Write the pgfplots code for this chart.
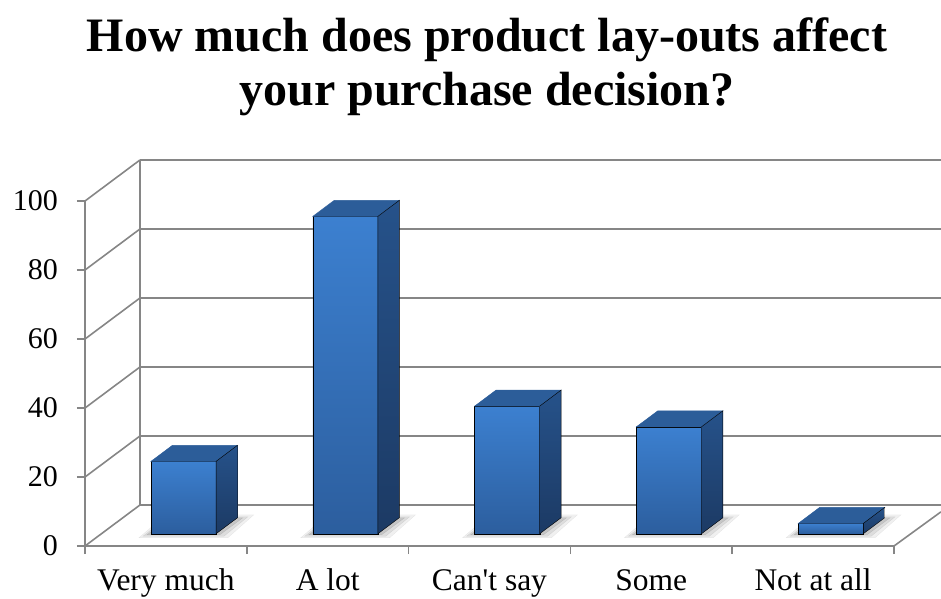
\documentclass[border=0pt]{standalone}
\usepackage{fontspec}
\setmainfont{Liberation Serif}
\usepackage{pgfplots}
\usepackage{pgfplotstable}
\pgfplotsset{compat=1.18}
\pgfdeclareplotmark{empty}{}
\definecolor{gridgray}{RGB}{134,134,134}
\definecolor{frontTop}{RGB}{60,128,208}
\definecolor{frontBot}{RGB}{44,94,158}
\definecolor{sideTop}{RGB}{38,82,138}
\definecolor{sideBot}{RGB}{28,58,100}
\definecolor{topFace}{RGB}{44,93,153}

\pgfplotstableread{
x v
0 21
1 92
2 37
3 31
4 3
}\bardata

\begin{document}
\begin{tikzpicture}
\useasboundingbox (0,0) rectangle (941pt,598pt);
\node[font=\fontsize{48}{54}\bfseries\selectfont, anchor=base] at (487pt,546pt) {How much does product lay-outs affect};
\node[font=\fontsize{48}{54}\bfseries\selectfont, anchor=base] at (487pt,492pt) {your purchase decision?};
\begin{axis}[
  at={(85pt,52pt)}, anchor=south west,
  scale only axis, width=809pt, height=345pt,
  xmin=-0.5, xmax=4.5, ymin=0, ymax=100,
  axis x line*=bottom, axis y line*=left,
  axis line style={draw=gridgray, line width=1.5pt},
  clip=false,
  /pgf/number format/assume math mode=true,
  ticklabel style={font=\fontsize{30}{36}\selectfont},
  ytick={0,20,40,60,80,100},
  yticklabel style={anchor=east, inner sep=0pt, xshift=-19pt},
  xtick={-0.5,0.5,1.5,2.5,3.5,4.5}, xticklabels={},
  extra x ticks={0,1,2,3,4},
  extra x tick labels={Very much,A lot,Can\textquotesingle t say,Some,Not at all},
  extra x tick style={major tick length=0pt, xticklabel style={font=\fontsize{31.5}{37}\selectfont, anchor=base, inner sep=0pt, yshift=-44pt}},
  tick align=outside, major tick length=8pt,
  tick style={draw=gridgray, line width=1.5pt},
]
% back wall gridlines
\addplot[gridgray, line width=1.7pt] coordinates {(-0.16,11.9) (4.79,11.9)};
\addplot[gridgray, line width=1.7pt] coordinates {(-0.16,31.9) (4.79,31.9)};
\addplot[gridgray, line width=1.7pt] coordinates {(-0.16,51.9) (4.79,51.9)};
\addplot[gridgray, line width=1.7pt] coordinates {(-0.16,71.9) (4.79,71.9)};
\addplot[gridgray, line width=1.7pt] coordinates {(-0.16,91.9) (4.79,91.9)};
\addplot[gridgray, line width=1.7pt] coordinates {(-0.16,111.9) (4.79,111.9)};
% back wall left edge
\addplot[gridgray, line width=1.6pt] coordinates {(-0.16,11.9) (-0.16,111.9)};
% side wall diagonals
\addplot[gridgray, line width=1.6pt] coordinates {(-0.5,0) (-0.16,11.9)};
\addplot[gridgray, line width=1.6pt] coordinates {(-0.5,20) (-0.16,31.9)};
\addplot[gridgray, line width=1.6pt] coordinates {(-0.5,40) (-0.16,51.9)};
\addplot[gridgray, line width=1.6pt] coordinates {(-0.5,60) (-0.16,71.9)};
\addplot[gridgray, line width=1.6pt] coordinates {(-0.5,80) (-0.16,91.9)};
\addplot[gridgray, line width=1.6pt] coordinates {(-0.5,100) (-0.16,111.9)};
% floor right edge
\addplot[gridgray, line width=1.6pt] coordinates {(4.5,0) (4.79,9.9)};
% 3D bars: marker sits at (x, v); front face spans from 12.25pt above the floor line
\addplot[scatter, only marks, mark=empty,
  visualization depends on={rawy \as \val},
  scatter/@pre marker code/.code={%
    \pgfkeys{/pgf/fpu=false}%
    \pgfmathsetlengthmacro\bb{12.25pt-\val*3.45pt}%
    \fill[black, opacity=0.06] (-27pt,\bb-4pt) -- (62pt,\bb-4pt) -- (88pt,\bb+19pt) -- (0pt,\bb+19pt) -- cycle;
    \fill[black, opacity=0.08] (-23pt,\bb-2.5pt) -- (58pt,\bb-2.5pt) -- (82pt,\bb+17pt) -- (2pt,\bb+17pt) -- cycle;
    \fill[black, opacity=0.10] (-19pt,\bb-1pt) -- (54pt,\bb-1pt) -- (77pt,\bb+16pt) -- (4pt,\bb+16pt) -- cycle;
    \shade[top color=frontTop, bottom color=frontBot] (-14.9pt,\bb) rectangle (50.2pt,12.25pt);
    \fill[topFace] (-14.9pt,12.25pt) -- (50.2pt,12.25pt) -- (71.6pt,28.25pt) -- (6.5pt,28.25pt) -- cycle;
    \shade[top color=sideTop, bottom color=sideBot] (50.2pt,\bb) -- (71.6pt,\bb+16pt) -- (71.6pt,28.25pt) -- (50.2pt,12.25pt) -- cycle;
  },
  scatter/@post marker code/.code={},
] table[x=x, y=v] {\bardata};
\end{axis}
\end{tikzpicture}
\end{document}
